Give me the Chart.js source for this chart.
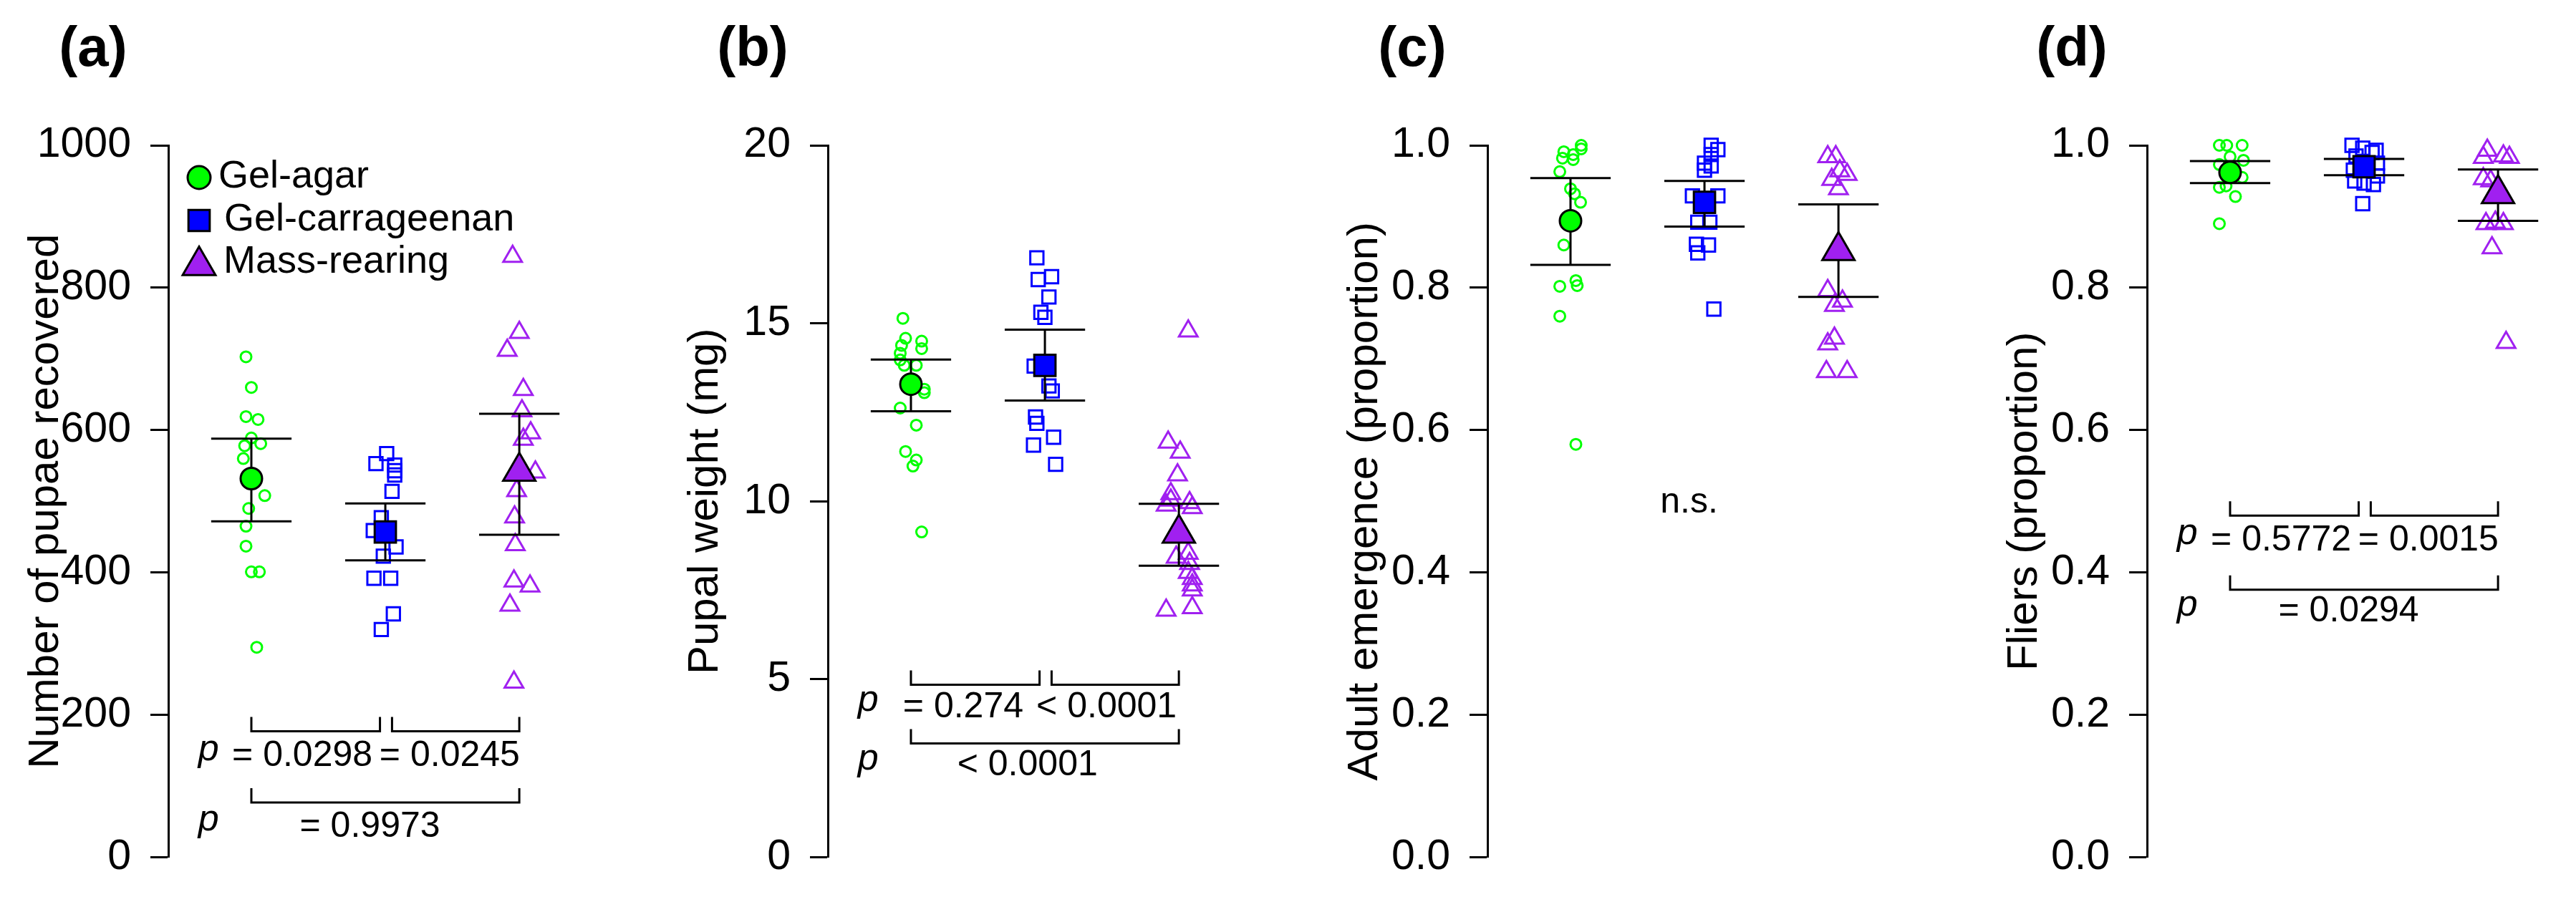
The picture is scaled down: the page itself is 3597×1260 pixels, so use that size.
<!DOCTYPE html>
<html>
<head>
<meta charset="utf-8">
<script src="https://cdn.jsdelivr.net/npm/chart.js@4.4.1/dist/chart.umd.min.js"></script>
<style>
  html, body { margin: 0; padding: 0; background: #fff; }
  body { width: 3597px; height: 1260px; position: relative; overflow: hidden; }
  canvas { position: absolute; top: 0; }
</style>
</head>
<body>
<canvas id="panelA" width="834" height="1260" style="left:0px"></canvas>
<canvas id="panelB" width="834" height="1260" style="left:921px"></canvas>
<canvas id="panelC" width="834" height="1260" style="left:1842px"></canvas>
<canvas id="panelD" width="834" height="1260" style="left:2763px"></canvas>
<script>
// --- groups ---
var groups = ['Gel-agar', 'Gel-carrageenan', 'Mass-rearing'];
var groupColors = ['#00ff00', '#0000ff', '#a020f0'];

// --- (a) number of pupae recovered ---
var agarA = [703, 660, 619, 615, 589, 581, 578, 560, 508, 490, 465, 437, 401, 401, 295];
var agarAJit = [-0.04, 0.0, -0.04, 0.05, 0.0, 0.07, -0.05, -0.06, 0.1, -0.02, -0.04, -0.04, 0.0, 0.06, 0.04];
var carrA = [567, 553, 551, 543, 537, 514, 477, 459, 436, 423, 392, 392, 342, 320];
var carrAJit = [0.01, -0.07, 0.07, 0.07, 0.07, 0.05, -0.03, -0.09, 0.08, -0.015, -0.085, 0.04, 0.06, -0.03];
var massA = [844, 737, 712, 657, 627, 596, 587, 541, 515, 478, 439, 388, 381, 354, 246];
var massAJit = [-0.05, 0.0, -0.09, 0.03, 0.02, 0.085, 0.03, 0.12, -0.02, -0.035, -0.03, -0.04, 0.08, -0.07, -0.04];
var meanA = [532, 457, 542];
var loA = [472, 417, 453];
var hiA = [588, 497, 623];

// --- (b) pupal weight (mg) ---
var agarB = [15.14, 14.58, 14.50, 14.38, 14.29, 14.16, 13.97, 13.82, 13.82, 13.15, 13.05, 12.62, 12.14, 11.40, 11.16, 10.99, 9.14];
var agarBJit = [-0.06, -0.04, 0.08, -0.07, 0.08, -0.08, -0.08, -0.05, 0.04, 0.1, 0.1, -0.08, 0.04, -0.04, 0.04, 0.015, 0.08];
var carrB = [16.84, 16.31, 16.23, 15.74, 15.31, 15.17, 13.8, 13.24, 13.10, 12.37, 12.19, 11.80, 11.58, 11.04];
var carrBJit = [-0.06, 0.05, -0.05, 0.03, -0.03, 0.0, -0.08, 0.03, 0.055, -0.07, -0.06, 0.065, -0.085, 0.08];
var massB = [14.78, 11.66, 11.38, 10.74, 10.21, 10.03, 9.96, 9.89, 9.82, 8.54, 8.43, 8.25, 8.00, 7.83, 7.65, 7.51, 7.01, 6.94];
var massBJit = [0.07, -0.08, 0.01, -0.01, -0.06, -0.06, 0.08, -0.095, 0.1, 0.07, -0.02, 0.08, 0.07, 0.1, 0.1, 0.1, 0.1, -0.095];
var meanB = [13.29, 13.82, 9.1];
var loB = [12.53, 12.83, 8.19];
var hiB = [13.98, 14.82, 9.93];

// --- (c) adult emergence (proportion) ---
var agarC = [1.0, 0.995, 0.991, 0.987, 0.982, 0.980, 0.963, 0.939, 0.932, 0.920, 0.860, 0.810, 0.803, 0.802, 0.760, 0.580];
var agarCJit = [0.08, 0.08, -0.05, 0.02, -0.06, 0.02, -0.08, 0.0, 0.03, 0.075, -0.05, 0.04, 0.05, -0.08, -0.08, 0.04];
var carrC = [1.0, 0.994, 0.987, 0.975, 0.971, 0.965, 0.929, 0.929, 0.892, 0.892, 0.861, 0.860, 0.849, 0.770];
var carrCJit = [0.05, 0.1, 0.05, 0.0, 0.05, 0.0, -0.09, 0.1, -0.05, 0.04, -0.06, 0.03, -0.05, 0.07];
var massC = [0.984, 0.984, 0.964, 0.959, 0.952, 0.939, 0.796, 0.781, 0.775, 0.729, 0.721, 0.682, 0.682];
var massCJit = [-0.08, -0.02, 0.01, 0.065, -0.05, 0.0, -0.08, 0.03, -0.03, -0.03, -0.08, -0.09, 0.065];
var meanC = [0.894, 0.920, 0.852];
var loC = [0.832, 0.886, 0.787];
var hiC = [0.954, 0.950, 0.917];

// --- (d) fliers (proportion) ---
var agarD = [1.0, 1.0, 1.0, 0.984, 0.979, 0.973, 0.955, 0.943, 0.941, 0.928, 0.890];
var agarDJit = [-0.08, -0.025, 0.09, 0.0, 0.1, -0.08, 0.09, -0.03, -0.08, 0.04, -0.08];
var carrD = [1.0, 0.996, 0.993, 0.99, 0.985, 0.975, 0.965, 0.957, 0.950, 0.947, 0.945, 0.918];
var carrDJit = [-0.09, -0.01, 0.09, 0.06, -0.06, 0.1, -0.08, 0.1, -0.07, 0.0, 0.07, -0.01];
var massD = [0.993, 0.983, 0.985, 0.983, 0.953, 0.950, 0.892, 0.890, 0.890, 0.856, 0.723];
var massDJit = [-0.08, -0.11, 0.04, 0.085, -0.11, -0.055, -0.02, -0.09, 0.04, -0.045, 0.06];
var meanD = [0.962, 0.970, 0.932];
var loD = [0.947, 0.958, 0.894];
var hiD = [0.978, 0.981, 0.966];

// --- brackets [from, to, y] and p-value texts [text, x, y] ---
var bracketsA = [[1, 1.96, 177], [2.05, 3, 177], [1, 3, 77]];
var textsA = [['p', 0.68, 142], ['= 0.0298', 1.38, 142], ['= 0.0245', 2.48, 142], ['p', 0.68, 43], ['= 0.9973', 1.885, 43]];
var bracketsB = [[1, 1.96, 4.85], [2.05, 3, 4.85], [1, 3, 3.2]];
var textsB = [['p', 0.68, 4.22], ['= 0.274', 1.39, 4.22], ['< 0.0001', 2.46, 4.22], ['p', 0.68, 2.58], ['< 0.0001', 1.87, 2.58]];
var textsC = [['n.s.', 1.885, 0.497]];
var bracketsD = [[1, 1.96, 0.48], [2.05, 3, 0.48], [1, 3, 0.376]];
var textsD = [['p', 0.68, 0.445], ['= 0.5772', 1.38, 0.445], ['= 0.0015', 2.48, 0.445], ['p', 0.68, 0.345], ['= 0.0294', 1.885, 0.345]];

var FONT = '"Liberation Sans", Arial, sans-serif';
var capHalf = 0.3;

function pts(vals, jit, g) {
    return vals.map(function (v, i) { return { x: g + jit[i], y: v }; });
}

function openSet(vals, jit, g, style, radius) {
    return {
        data: pts(vals, jit, g),
        pointStyle: style,
        pointRadius: radius,
        pointHoverRadius: radius,
        pointBorderColor: groupColors[g - 1],
        pointBackgroundColor: 'rgba(0,0,0,0)',
        pointBorderWidth: 3,
        pointHoverBorderWidth: 3,
        showLine: false,
        clip: false,
        order: 1
    };
}

// panel decorations: error bars, brackets, texts, axis title, legend
var decor = {
    id: 'decor',
    beforeDatasetDraw: function (chart, args, opts) {
        if (args.index !== 3) return;
        var ctx = chart.ctx, xs = chart.scales.x, ys = chart.scales.y;
        ctx.save();
        ctx.strokeStyle = '#000';
        ctx.lineWidth = 3;
        for (var g = 0; g < 3; g++) {
            var cx = xs.getPixelForValue(g + 1);
            var lo = ys.getPixelForValue(opts.lo[g]), hi = ys.getPixelForValue(opts.hi[g]);
            var x0 = xs.getPixelForValue(g + 1 - capHalf), x1 = xs.getPixelForValue(g + 1 + capHalf);
            ctx.beginPath();
            ctx.moveTo(cx, lo); ctx.lineTo(cx, hi);
            ctx.moveTo(x0, lo); ctx.lineTo(x1, lo);
            ctx.moveTo(x0, hi); ctx.lineTo(x1, hi);
            ctx.stroke();
        }
        ctx.restore();
    },
    afterDraw: function (chart, args, opts) {
        var ctx = chart.ctx, xs = chart.scales.x, ys = chart.scales.y, area = chart.chartArea;
        ctx.save();
        ctx.fillStyle = '#000';

        // panel letter
        ctx.font = 'bold 78px ' + FONT;
        ctx.textAlign = 'center';
        ctx.textBaseline = 'alphabetic';
        ctx.fillText(opts.letter, area.left - 105, 92);

        // y axis title
        ctx.save();
        ctx.translate(area.left - 154, (area.top + area.bottom) / 2);
        ctx.rotate(-Math.PI / 2);
        ctx.font = '60px ' + FONT;
        ctx.textBaseline = 'alphabetic';
        ctx.fillText(opts.title, 0, 0);
        ctx.restore();

        // brackets
        ctx.strokeStyle = '#000';
        ctx.lineWidth = 3;
        (opts.brackets || []).forEach(function (b) {
            var xa = xs.getPixelForValue(b[0]), xb = xs.getPixelForValue(b[1]), y = ys.getPixelForValue(b[2]);
            ctx.beginPath();
            ctx.moveTo(xa, y - 20); ctx.lineTo(xa, y); ctx.lineTo(xb, y); ctx.lineTo(xb, y - 20);
            ctx.stroke();
        });

        // p-value texts
        ctx.textAlign = 'center';
        ctx.textBaseline = 'middle';
        (opts.texts || []).forEach(function (t) {
            var y = ys.getPixelForValue(t[2]);
            ctx.font = '50px ' + FONT;
            ctx.textBaseline = 'middle';
            if (t[0] === 'p') {
                ctx.font = 'italic 52px ' + FONT;
                y -= 9;
            } else if (t[0] === 'n.s.') {
                ctx.textBaseline = 'alphabetic';
                y += 13;
            }
            ctx.fillText(t[0], xs.getPixelForValue(t[1]), y);
        });

        // legend (panel a only)
        if (opts.legend) {
            var styles = ['circle', 'rect', 'triangle'], radii = [16, 21, 26.5];
            var markY = [248, 308, 371], textY = [247, 307, 366], textX = [305, 313, 312];
            ctx.font = '54px ' + FONT;
            ctx.textAlign = 'left';
            ctx.textBaseline = 'middle';
            for (var i = 0; i < 3; i++) {
                ctx.fillStyle = groupColors[i];
                ctx.strokeStyle = '#000';
                ctx.lineWidth = 3;
                Chart.helpers.drawPoint(ctx, { pointStyle: styles[i], radius: radii[i], borderWidth: 3, rotation: 0 }, 278, markY[i]);
                ctx.fillStyle = '#000';
                ctx.fillText(groups[i], textX[i], textY[i]);
            }
        }
        ctx.restore();
    }
};

function makePanel(id, p) {
    var datasets = [
        openSet(p.agar[0], p.agar[1], 1, 'circle', 7.5),
        openSet(p.carr[0], p.carr[1], 2, 'rect', 13),
        openSet(p.mass[0], p.mass[1], 3, 'triangle', 15),
        {
            data: p.mean.map(function (m, i) { return { x: i + 1, y: m }; }),
            pointStyle: ['circle', 'rect', 'triangle'],
            pointRadius: [15, 21, 26],
            pointHoverRadius: [15, 21, 26],
            pointBackgroundColor: groupColors,
            pointBorderColor: '#000',
            pointBorderWidth: 3,
            pointHoverBorderWidth: 3,
            showLine: false,
            clip: false,
            order: 0
        }
    ];
    return new Chart(document.getElementById(id).getContext('2d'), {
        type: 'scatter',
        data: { datasets: datasets },
        plugins: [decor],
        options: {
            responsive: false,
            animation: false,
            devicePixelRatio: 1,
            events: [],
            layout: { padding: { left: 0, right: 14, top: 203, bottom: 50 } },
            scales: {
                x: { type: 'linear', min: 0.38, max: 3.427, display: false },
                y: {
                    min: 0,
                    max: p.max,
                    afterFit: function (s) { s.width = 235; },
                    border: { display: true, color: '#000', width: 3 },
                    grid: { drawOnChartArea: false, drawTicks: true, tickLength: 25, tickWidth: 3, tickColor: '#000' },
                    ticks: {
                        stepSize: p.step,
                        padding: 27,
                        color: '#000',
                        font: { family: FONT, size: 59 },
                        callback: function (v) { return p.max === 1 ? Number(v).toFixed(1) : String(v); }
                    }
                }
            },
            plugins: {
                legend: { display: false },
                tooltip: { enabled: false },
                decor: {
                    letter: p.letter,
                    title: p.title,
                    lo: p.lo,
                    hi: p.hi,
                    brackets: p.brackets,
                    texts: p.texts,
                    legend: p.legend
                }
            }
        }
    });
}

makePanel('panelA', {
    letter: '(a)', title: 'Number of pupae recovered', max: 1000, step: 200,
    agar: [agarA, agarAJit], carr: [carrA, carrAJit], mass: [massA, massAJit],
    mean: meanA, lo: loA, hi: hiA, brackets: bracketsA, texts: textsA, legend: true
});
makePanel('panelB', {
    letter: '(b)', title: 'Pupal weight (mg)', max: 20, step: 5,
    agar: [agarB, agarBJit], carr: [carrB, carrBJit], mass: [massB, massBJit],
    mean: meanB, lo: loB, hi: hiB, brackets: bracketsB, texts: textsB, legend: false
});
makePanel('panelC', {
    letter: '(c)', title: 'Adult emergence (proportion)', max: 1, step: 0.2,
    agar: [agarC, agarCJit], carr: [carrC, carrCJit], mass: [massC, massCJit],
    mean: meanC, lo: loC, hi: hiC, brackets: [], texts: textsC, legend: false
});
makePanel('panelD', {
    letter: '(d)', title: 'Fliers (proportion)', max: 1, step: 0.2,
    agar: [agarD, agarDJit], carr: [carrD, carrDJit], mass: [massD, massDJit],
    mean: meanD, lo: loD, hi: hiD, brackets: bracketsD, texts: textsD, legend: false
});
</script>
</body>
</html>
